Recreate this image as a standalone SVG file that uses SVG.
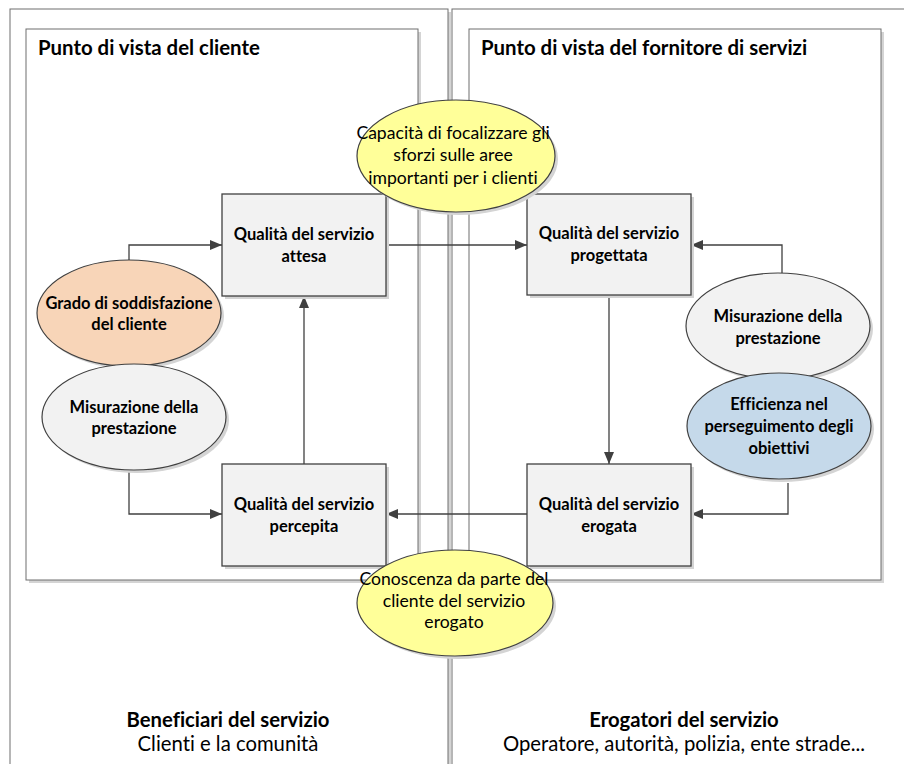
<svg xmlns="http://www.w3.org/2000/svg" width="904" height="764" viewBox="0 0 904 764">
<defs>
<style>
text{font-variant-ligatures:none;font-feature-settings:"liga" 0,"dlig" 0}
.frame{fill:#ffffff;stroke:#6e6e6e;stroke-width:1}
.shadow{fill:#d4d4d4;stroke:none}
.box{fill:#f2f2f2;stroke:#404040;stroke-width:1.3}
.ell{stroke:#404040;stroke-width:1.2}
.title{font-family:Lato,"Liberation Sans",sans-serif;font-weight:bold;font-size:20.4px;fill:#000}
.bt{font-family:Lato,"Liberation Sans",sans-serif;font-weight:bold;font-size:16.5px;fill:#000;text-anchor:middle}
.yt{font-family:Lato,"Liberation Sans",sans-serif;font-size:17.6px;fill:#000;text-anchor:middle}
.ft{font-family:Lato,"Liberation Sans",sans-serif;font-size:20.3px;fill:#000;text-anchor:middle}
.fb{font-family:Lato,"Liberation Sans",sans-serif;font-weight:bold;font-size:20.3px;fill:#000;text-anchor:middle}
.conn{fill:none;stroke:#404040;stroke-width:1.3}
</style>
<marker id="arr" viewBox="0 0 12 10" refX="12" refY="5" markerWidth="12" markerHeight="10" markerUnits="userSpaceOnUse" orient="auto">
<path d="M0,0 L12,5 L0,10 Z" fill="#404040"/>
</marker>
</defs>
<rect width="904" height="764" fill="#ffffff"/>

<g id="outer-left">
<rect class="shadow" x="13" y="12" width="438" height="760"/>
<rect class="frame" x="10" y="9" width="438" height="760"/>
</g>
<g id="outer-right">
<rect class="shadow" x="455" y="12" width="452" height="760"/>
<rect class="frame" x="452" y="9" width="460" height="760"/>
</g>

<g id="inner-left">
<rect class="shadow" x="29" y="32" width="392" height="551"/>
<rect class="frame" x="26" y="29" width="392" height="551"/>
<text class="title" x="38" y="55">Punto di vista del cliente</text>
</g>
<g id="inner-right">
<rect class="shadow" x="472" y="32" width="412" height="551"/>
<rect class="frame" x="469" y="29" width="412" height="551"/>
<text class="title" x="481" y="55">Punto di vista del fornitore di servizi</text>
</g>

<g id="connectors">
<polyline class="conn" points="129,260 129,245 222,245" marker-end="url(#arr)"/>
<polyline class="conn" points="129,471 129,514 222,514" marker-end="url(#arr)"/>
<line class="conn" x1="304" y1="464" x2="304" y2="296" marker-end="url(#arr)"/>
<line class="conn" x1="386" y1="245" x2="527" y2="245" marker-end="url(#arr)"/>
<line class="conn" x1="609" y1="295" x2="609" y2="464" marker-end="url(#arr)"/>
<polyline class="conn" points="782,273 782,245 691,245" marker-end="url(#arr)"/>
<polyline class="conn" points="788,483 788,514 691,514" marker-end="url(#arr)"/>
<line class="conn" x1="527" y1="514" x2="386" y2="514" marker-end="url(#arr)"/>
</g>

<g id="attesa">
<rect class="shadow" x="225" y="197" width="164" height="102"/>
<rect class="box" x="222" y="194" width="164" height="102"/>
<text class="bt" x="304" y="240">Qualità del servizio</text>
<text class="bt" x="304" y="262">attesa</text>
</g>
<g id="percepita">
<rect class="shadow" x="225" y="467" width="164" height="102"/>
<rect class="box" x="222" y="464" width="164" height="102"/>
<text class="bt" x="304" y="510">Qualità del servizio</text>
<text class="bt" x="304" y="532">percepita</text>
</g>
<g id="progettata">
<rect class="shadow" x="530" y="197" width="164" height="101"/>
<rect class="box" x="527" y="194" width="164" height="101"/>
<text class="bt" x="609" y="239">Qualità del servizio</text>
<text class="bt" x="609" y="261">progettata</text>
</g>
<g id="erogata">
<rect class="shadow" x="530" y="467" width="164" height="102"/>
<rect class="box" x="527" y="464" width="164" height="102"/>
<text class="bt" x="609" y="510">Qualità del servizio</text>
<text class="bt" x="609" y="532">erogata</text>
</g>

<g id="grado">
<ellipse class="shadow" cx="132" cy="316" rx="92" ry="53"/>
<ellipse class="ell" cx="129" cy="313" rx="92" ry="53" fill="#f8d5b8"/>
<text class="bt" x="129" y="309">Grado di soddisfazione</text>
<text class="bt" x="129" y="330">del cliente</text>
</g>
<g id="misurazione-left">
<ellipse class="shadow" cx="137" cy="420" rx="92" ry="53"/>
<ellipse class="ell" cx="134" cy="417" rx="92" ry="53" fill="#f2f2f2"/>
<text class="bt" x="134" y="413">Misurazione della</text>
<text class="bt" x="134" y="434">prestazione</text>
</g>
<g id="misurazione-right">
<ellipse class="shadow" cx="781" cy="329" rx="92" ry="53"/>
<ellipse class="ell" cx="778" cy="326" rx="92" ry="53" fill="#f2f2f2"/>
<text class="bt" x="778" y="322">Misurazione della</text>
<text class="bt" x="778" y="344">prestazione</text>
</g>
<g id="efficienza">
<ellipse class="shadow" cx="782" cy="429" rx="92" ry="53"/>
<ellipse class="ell" cx="779" cy="426" rx="92" ry="53" fill="#c5d9ea"/>
<text class="bt" x="779" y="410">Efficienza nel</text>
<text class="bt" x="779" y="432">perseguimento degli</text>
<text class="bt" x="779" y="454">obiettivi</text>
</g>

<g id="capacita">
<ellipse class="shadow" cx="459" cy="159" rx="99" ry="56"/>
<ellipse class="ell" cx="456" cy="156" rx="99" ry="56" fill="#ffff99"/>
<text class="yt" x="453" y="139">Capacità di focalizzare gli</text>
<text class="yt" x="453" y="161">sforzi sulle aree</text>
<text class="yt" x="453" y="184">importanti per i clienti</text>
</g>
<g id="conoscenza">
<ellipse class="shadow" cx="458" cy="606" rx="98" ry="53"/>
<ellipse class="ell" cx="455" cy="603" rx="98" ry="53" fill="#ffff99"/>
<text class="yt" x="454" y="585">Conoscenza da parte del</text>
<text class="yt" x="454" y="607">cliente del servizio</text>
<text class="yt" x="454" y="628">erogato</text>
</g>

<g id="beneficiari">
<text class="fb" x="228" y="727">Beneficiari del servizio</text>
<text class="ft" x="228" y="751">Clienti e la comunità</text>
</g>
<g id="erogatori">
<text class="fb" x="684" y="727">Erogatori del servizio</text>
<text class="ft" x="684" y="751">Operatore, autorità, polizia, ente strade...</text>
</g>
</svg>
